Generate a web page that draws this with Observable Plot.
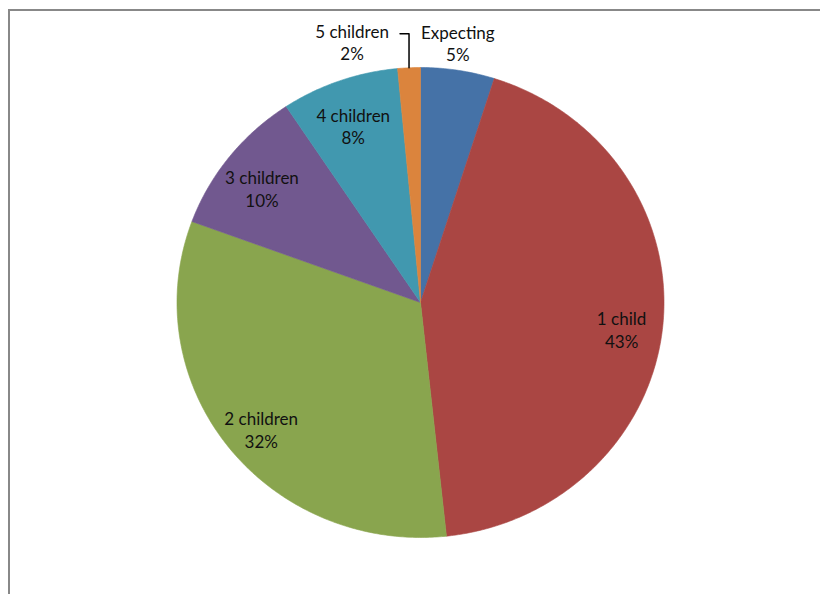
<!DOCTYPE html>
<html>
<head>
<meta charset="utf-8">
<script src="https://cdn.jsdelivr.net/npm/d3@7"></script>
<script src="https://cdn.jsdelivr.net/npm/@observablehq/plot@0.6"></script>
<style>
  html, body { margin: 0; padding: 0; background: #fff; }
  #wrap { position: relative; width: 820px; height: 594px; overflow: hidden; background: #fff; }
  #wrap svg { position: absolute; left: 0; top: 0; }
  #border { position: absolute; left: 8px; top: 9px; width: 830px; height: 600px;
            border-left: 2px solid #888; border-top: 2px solid #888; pointer-events: none; }
</style>
</head>
<body>
<div id="wrap"><div id="border"></div></div>
<script>
// ---- data ----
const categories = ["Expecting", "1 child", "2 children", "3 children", "4 children", "5 children"];
const shares = [4.9, 43.4, 32.3, 10.1, 7.8, 1.5];
const colors = ["#4572A7", "#AA4643", "#89A54E", "#71588F", "#4198AF", "#DB843D"];

// ---- layout ----
const W = 820, H = 594;
const cx = 420, cy = 302, rx = 243.5, ry = 235; // pie centre/radii in px (slightly elliptical like the source)

const total = d3.sum(shares);
const arcs = d3.pie().sort(null).value(d => d)(shares); // angles clockwise from 12 o'clock

// slice outlines in unit-circle coordinates (y pointing down)
const slicePoints = [];
arcs.forEach((a, i) => {
  const n = Math.max(4, Math.ceil((a.endAngle - a.startAngle) / 0.01));
  slicePoints.push({cat: categories[i], x: 0, y: 0});
  for (let k = 0; k <= n; k++) {
    const t = a.startAngle + (a.endAngle - a.startAngle) * k / n;
    slicePoints.push({cat: categories[i], x: Math.sin(t), y: -Math.cos(t)});
  }
  slicePoints.push({cat: categories[i], x: 0, y: 0});
});

const pct = i => `${categories[i]}\n${Math.round(shares[i] / total * 100)}%`;
const mid = a => (a.startAngle + a.endAngle) / 2;

const inside = [], outside = [], leadered = [], leaderPts = [];
arcs.forEach((a, i) => {
  const m = mid(a);
  const share = shares[i] / total * 100;
  if (share >= 6) {
    inside.push({x: 0.83 * Math.sin(m), y: -0.83 * Math.cos(m), text: pct(i)});
  } else if (share >= 3) {
    outside.push({x: Math.sin(m), y: -Math.cos(m), text: pct(i)});
  } else {
    const ex = Math.sin(m), ey = -Math.cos(m);
    const up = 34 / ry, left = 9 / rx;
    leaderPts.push({x: ex, y: ey}, {x: ex, y: ey - up}, {x: ex - left, y: ey - up});
    leadered.push({x: ex - left, y: ey - up, text: pct(i)});
  }
});

const font = "Lato, 'Open Sans', sans-serif";
const fs = 17, lh = 1.33;
const chart = Plot.plot({
  width: W,
  height: H,
  margin: 0,
  x: {domain: [-cx / rx, (W - cx) / rx], range: [0, W], axis: null},
  y: {domain: [-cy / ry, (H - cy) / ry], range: [0, H], axis: null},
  color: {domain: categories, range: colors},
  style: {fontFamily: font, background: "transparent"},
  marks: [
    Plot.line(slicePoints, {x: "x", y: "y", z: "cat", fill: "cat", stroke: "cat", strokeWidth: 0.6, curve: "linear"}),
    Plot.text(inside, {x: "x", y: "y", text: "text", fontSize: fs, lineHeight: lh, dy: 7, fill: "#111"}),
    Plot.text(outside, {x: "x", y: "y", text: "text", fontSize: fs, lineHeight: lh, lineAnchor: "bottom", dy: -9, fill: "#111"}),
    Plot.line(leaderPts, {x: "x", y: "y", stroke: "#000", strokeWidth: 1.5, curve: "linear"}),
    Plot.text(leadered, {x: "x", y: "y", text: "text", fontSize: fs, lineHeight: lh, lineAnchor: "middle", dx: -48, dy: 8, fill: "#111"})
  ]
});
document.getElementById("wrap").prepend(chart);
</script>
</body>
</html>
